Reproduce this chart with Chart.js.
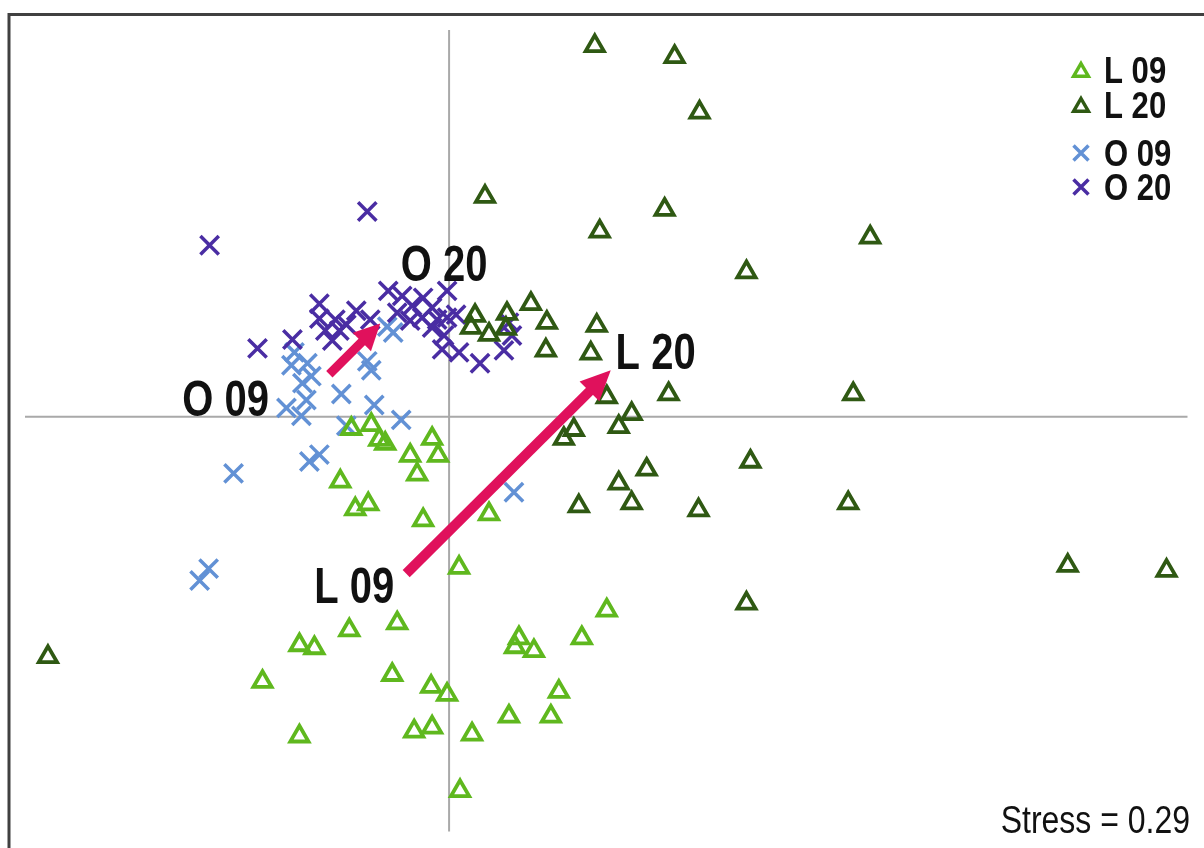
<!DOCTYPE html>
<html>
<head>
<meta charset="utf-8">
<script src="https://cdn.jsdelivr.net/npm/chart.js@4.4.1/dist/chart.umd.min.js"></script>
<style>
  html, body { margin: 0; padding: 0; background: #ffffff; overflow: hidden; }
  #wrap { position: relative; width: 1204px; height: 848px; }
  canvas { display: block; }
</style>
</head>
<body>
<div id="wrap"><canvas id="c" width="1204" height="848"></canvas></div>
<script>
// NMDS coordinates (arbitrary units)
const seriesNames = ["L 09", "L 20", "O 09", "O 20"];

const L09 = [
  [-0.98,-0.12],[-0.78,-0.08],[-0.70,-0.23],[-0.64,-0.27],[-0.17,-0.22],[-0.11,-0.39],
  [-0.39,-0.39],[-0.32,-0.58],[-1.09,-0.65],[-0.94,-0.93],[-0.81,-0.88],[-0.26,-1.04],
  [0.40,-0.98],[0.10,-1.52],[-1.87,-2.67],[-1.50,-2.30],[-1.35,-2.33],[-1.00,-2.15],
  [-0.52,-2.08],[-0.57,-2.60],[-0.18,-2.72],[-0.02,-2.80],[-1.50,-3.22],[-0.35,-3.17],
  [-0.17,-3.13],[0.23,-3.20],[0.11,-3.77],[0.60,-3.02],[1.02,-3.02],[1.10,-2.77],
  [0.70,-2.23],[0.66,-2.32],[0.85,-2.36],[1.33,-2.23],[1.58,-1.95]
];

const L20 = [
  [1.46,3.74],[2.26,3.63],[2.51,3.07],[0.36,2.22],[2.16,2.09],[1.51,1.87],[4.22,1.81],
  [2.98,1.46],[0.26,1.02],[0.22,0.90],[0.40,0.83],[0.58,1.04],[0.57,0.89],[0.82,1.14],
  [0.98,0.95],[0.97,0.67],[1.48,0.92],[1.42,0.64],[1.58,0.20],[2.20,0.23],[4.05,0.23],
  [1.83,0.03],[1.70,-0.10],[1.25,-0.13],[1.15,-0.22],[3.02,-0.45],[1.98,-0.53],
  [1.70,-0.67],[1.83,-0.87],[1.30,-0.90],[2.50,-0.94],[4.00,-0.87],[6.20,-1.50],
  [7.19,-1.55],[2.98,-1.88],[-4.02,-2.42]
];

const O09 = [
  [-1.55,0.65],[-1.58,0.52],[-1.42,0.54],[-1.38,0.41],[-1.47,0.34],[-1.63,0.09],
  [-1.48,0.01],[-1.43,0.17],[-1.08,0.23],[-0.75,0.12],[-0.48,-0.03],[-1.03,-0.09],
  [-1.40,-0.45],[-1.30,-0.38],[-2.16,-0.57],[-2.41,-1.53],[-2.50,-1.65],[0.65,-0.76],
  [-0.82,0.56],[-0.78,0.47],[-0.62,0.91],[-0.56,0.85]
];

const O20 = [
  [-2.40,1.73],[-0.82,2.07],[-1.92,0.69],[-1.57,0.78],[-1.30,1.14],[-1.30,0.99],
  [-1.14,0.98],[-1.03,0.93],[-1.17,0.77],[-0.93,1.07],[-0.79,0.98],[-1.24,0.87],
  [-1.10,0.87],[-0.61,1.27],[-0.47,1.22],[-0.26,1.20],[-0.02,1.27],[-0.37,1.12],
  [-0.52,1.05],[-0.39,0.97],[-0.17,1.10],[-0.12,0.98],[-0.02,1.00],[0.07,1.03],
  [-0.27,1.00],[-0.17,0.90],[-0.05,0.82],[-0.07,0.68],[0.10,0.65],[0.31,0.54],
  [0.55,0.67],[0.63,0.82],[0.60,0.95]
];

// centroid shift arrows: [fromX, fromY, toX, toY]
const arrowL = [-0.43, -1.58, 1.62, 0.47];
const arrowO = [-1.20, 0.43, -0.69, 0.94];

// group labels: [text, centerX, centerY]
const groupLabels = [
  ["L 09", -0.95, -1.70],
  ["L 20", 2.07, 0.66],
  ["O 09", -2.24, 0.19],
  ["O 20", -0.05, 1.55]
];

const stressText = "Stress = 0.29";

const colors = {
  "L 09": "#5fb81e",
  "L 20": "#2f5913",
  "O 09": "#6291d5",
  "O 20": "#4a2da3",
  arrow: "#e0115c",
  zero: "#a9a9a9"
};

const toPts = arr => arr.map(p => ({ x: p[0], y: p[1] }));

function drawNarrowText(ctx, text, x, y, font, align, sx) {
  ctx.save();
  ctx.font = font;
  ctx.textBaseline = "alphabetic";
  const w = ctx.measureText(text).width * sx;
  let left = x;
  if (align === "center") left = x - w / 2;
  else if (align === "right") left = x - w;
  ctx.translate(left, y);
  ctx.scale(sx, 1);
  ctx.textAlign = "left";
  ctx.fillStyle = "#111111";
  ctx.fillText(text, 0, 0);
  ctx.restore();
}

const overlayPlugin = {
  id: "overlay",
  beforeDatasetsDraw(chart) {
    const ctx = chart.ctx;
    const a = chart.chartArea;
    const xs = chart.scales.x, ys = chart.scales.y;
    ctx.save();
    ctx.strokeStyle = "#404040";
    ctx.lineWidth = 3;
    ctx.beginPath();
    ctx.moveTo(9, 848);
    ctx.lineTo(9, 14.5);
    ctx.lineTo(1204, 14.5);
    ctx.stroke();
    const x0 = xs.getPixelForValue(0), y0 = ys.getPixelForValue(0);
    ctx.strokeStyle = colors.zero;
    ctx.lineWidth = 2;
    ctx.beginPath();
    ctx.moveTo(x0, a.top); ctx.lineTo(x0, a.bottom);
    ctx.moveTo(a.left, y0); ctx.lineTo(a.right, y0);
    ctx.stroke();
    ctx.restore();
  },
  afterDatasetsDraw(chart) {
    const ctx = chart.ctx;
    const xs = chart.scales.x, ys = chart.scales.y;
    function arrow(a, lw, headLen, headW) {
      const x1 = xs.getPixelForValue(a[0]), y1 = ys.getPixelForValue(a[1]);
      const x2 = xs.getPixelForValue(a[2]), y2 = ys.getPixelForValue(a[3]);
      const ang = Math.atan2(y2 - y1, x2 - x1);
      const bx = x2 - Math.cos(ang) * headLen, by = y2 - Math.sin(ang) * headLen;
      ctx.save();
      ctx.strokeStyle = colors.arrow;
      ctx.fillStyle = colors.arrow;
      ctx.lineWidth = lw;
      ctx.lineCap = "butt";
      ctx.beginPath();
      ctx.moveTo(x1, y1);
      ctx.lineTo(bx + Math.cos(ang) * 2, by + Math.sin(ang) * 2);
      ctx.stroke();
      ctx.beginPath();
      ctx.moveTo(x2, y2);
      ctx.lineTo(bx + Math.sin(ang) * headW / 2, by - Math.cos(ang) * headW / 2);
      ctx.lineTo(bx - Math.sin(ang) * headW / 2, by + Math.cos(ang) * headW / 2);
      ctx.closePath();
      ctx.fill();
      ctx.restore();
    }
    arrow(arrowL, 10, 30, 28);
    arrow(arrowO, 9, 26, 26);

    const bigSize = 50;
    groupLabels.forEach(g => {
      const cx = xs.getPixelForValue(g[1]);
      const cy = ys.getPixelForValue(g[2]);
      drawNarrowText(ctx, g[0], cx, cy + bigSize * 0.716 / 2,
        "bold " + bigSize + "px 'Liberation Sans', Arial, sans-serif", "center", 0.8);
    });

    const rows = [70, 105, 153, 187];
    chart.data.datasets.forEach((ds, i) => {
      const y = rows[i];
      ctx.save();
      ctx.strokeStyle = ds.borderColor;
      ctx.lineWidth = 3.5;
      ctx.beginPath();
      if (ds.pointStyle === "triangle") {
        const r = 8.5;
        const cy = y + 2;
        ctx.moveTo(1081, cy - r);
        ctx.lineTo(1081 + r * 0.866, cy + r / 2);
        ctx.lineTo(1081 - r * 0.866, cy + r / 2);
        ctx.closePath();
      } else {
        const h = 7.5;
        ctx.moveTo(1081 - h, y - h); ctx.lineTo(1081 + h, y + h);
        ctx.moveTo(1081 + h, y - h); ctx.lineTo(1081 - h, y + h);
      }
      ctx.stroke();
      ctx.restore();
      drawNarrowText(ctx, ds.label, 1104, y + 13,
        "bold 37px 'Liberation Sans', Arial, sans-serif", "left", 0.84);
    });

    drawNarrowText(ctx, stressText, 1190, 833,
      "39px 'Liberation Sans', Arial, sans-serif", "right", 0.82);
  }
};

const datasets = [
  { label: seriesNames[0], data: toPts(L09), pointStyle: "triangle", pointRadius: 10.5,
    borderColor: colors["L 09"], backgroundColor: "rgba(0,0,0,0)", borderWidth: 3.8, pointBorderWidth: 3.8, order: 0 },
  { label: seriesNames[1], data: toPts(L20), pointStyle: "triangle", pointRadius: 10.5,
    borderColor: colors["L 20"], backgroundColor: "rgba(0,0,0,0)", borderWidth: 3.8, pointBorderWidth: 3.8, order: 1 },
  { label: seriesNames[2], data: toPts(O09), pointStyle: "crossRot", pointRadius: 13,
    borderColor: colors["O 09"], backgroundColor: colors["O 09"], borderWidth: 3.5, pointBorderWidth: 3.5, order: 3 },
  { label: seriesNames[3], data: toPts(O20), pointStyle: "crossRot", pointRadius: 13,
    borderColor: colors["O 20"], backgroundColor: colors["O 20"], borderWidth: 3.5, pointBorderWidth: 3.5, order: 2 }
];

new Chart(document.getElementById("c"), {
  type: "scatter",
  data: { datasets },
  options: {
    responsive: false,
    animation: false,
    devicePixelRatio: 1,
    layout: { padding: { left: 25, right: 14, top: 30, bottom: 10 } },
    clip: false,
    plugins: { legend: { display: false }, tooltip: { enabled: false } },
    elements: { point: { hoverRadius: 10.5 } },
    scales: {
      x: { type: "linear", min: -4.25, max: 7.40, display: false },
      y: { type: "linear", min: -4.18, max: 3.90, display: false }
    }
  },
  plugins: [overlayPlugin]
});
</script>
</body>
</html>
